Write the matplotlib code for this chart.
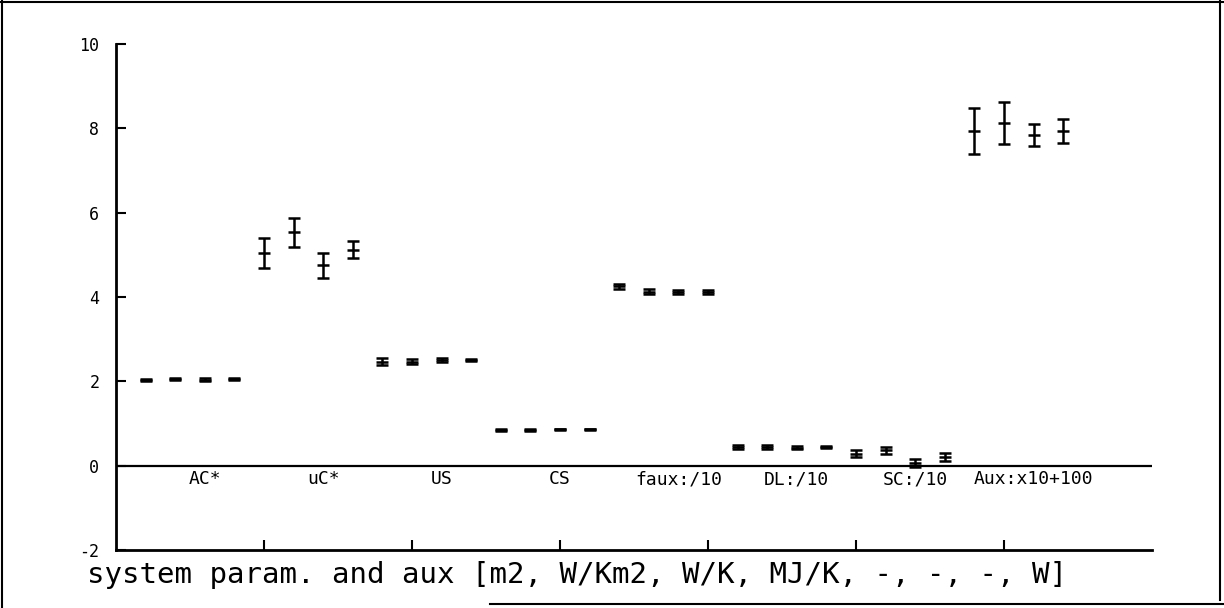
import numpy as np
import matplotlib
matplotlib.use("Agg")
import matplotlib.pyplot as plt
from matplotlib.lines import Line2D

categories = ["AC*", "uC*", "US", "CS", "faux:/10", "DL:/10", "SC:/10", "Aux:x10+100"]
ac_vals = [2.03, 2.05, 2.04, 2.06]
ac_err = [0.02, 0.03, 0.03, 0.02]
uc_vals = [5.04, 5.53, 4.75, 5.12]
uc_err = [0.36, 0.34, 0.30, 0.20]
us_vals = [2.47, 2.47, 2.51, 2.51]
us_err = [0.08, 0.07, 0.05, 0.03]
cs_vals = [0.85, 0.85, 0.86, 0.86]
cs_err = [0.02, 0.02, 0.02, 0.02]
faux_vals = [4.25, 4.12, 4.12, 4.12]
faux_err = [0.06, 0.06, 0.04, 0.04]
dl_vals = [0.45, 0.45, 0.43, 0.44]
dl_err = [0.05, 0.05, 0.03, 0.02]
sc_vals = [0.28, 0.36, 0.06, 0.20]
sc_err = [0.08, 0.09, 0.10, 0.09]
aux_vals = [7.93, 8.13, 7.84, 7.94]
aux_err = [0.55, 0.50, 0.27, 0.29]
y_ticks = [-2, 0, 2, 4, 6, 8, 10]
xlabel = "system param. and aux [m2, W/Km2, W/K, MJ/K, -, -, -, W]"

values = ac_vals + uc_vals + us_vals + cs_vals + faux_vals + dl_vals + sc_vals + aux_vals
errors = ac_err + uc_err + us_err + cs_err + faux_err + dl_err + sc_err + aux_err
n = len(values)
step = 0.2
xpos = step * np.arange(1, n + 1)

mono = ["DejaVu Sans Mono"]

fig = plt.figure(figsize=(12.24, 6.08), dpi=100)
ax = fig.add_axes([116 / 1224, 58 / 608, (1152 - 116) / 1224, (550 - 44) / 608])

ax.errorbar(xpos, values, yerr=errors, fmt="_", color="black", ecolor="black",
            elinewidth=1.8, capsize=4.5, capthick=1.8, markersize=9, mew=1.8)
ax.axhline(0, color="black", lw=1.6)

ax.set_xlim(0, 7)
ax.set_ylim(-2, 10)
ax.set_yticks(y_ticks)
ax.set_yticklabels([str(t) for t in y_ticks], fontsize=12, family=mono)
ax.set_xticks([1, 2, 3, 4, 5, 6])
ax.set_xticklabels([])
ax.tick_params(axis="both", direction="in", length=7, width=1.5, color="black")
ax.tick_params(axis="y", pad=12)
for s in ["top", "right"]:
    ax.spines[s].set_visible(False)
for s in ["left", "bottom"]:
    ax.spines[s].set_linewidth(2)

for i, c in enumerate(categories):
    ax.text(0.6 + 4 * step * i, -0.32, c, ha="center", va="center", fontsize=13, family=mono)

fig.text(577 / 1224, 1 - 575 / 608, xlabel, ha="center", va="center", fontsize=21, family=mono)

# outer frame
for (x0, y0, x1, y1) in [(2, 0, 2, 608), (0, 2, 1224, 2), (1220, 0, 1220, 600), (490, 604, 1224, 604)]:
    fig.add_artist(Line2D([x0 / 1224, x1 / 1224], [1 - y0 / 608, 1 - y1 / 608],
                          transform=fig.transFigure, color="black", lw=1.5))

fig.savefig("out.png", dpi=100)
